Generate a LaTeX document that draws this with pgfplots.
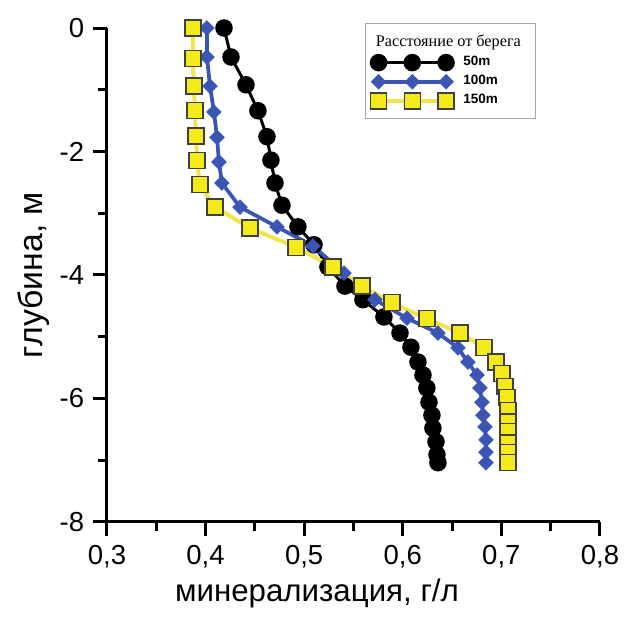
\documentclass[border=0pt]{standalone}
\usepackage{fontspec}
\setmainfont{Liberation Sans}
\newfontfamily\legtitle{Liberation Serif}
\usepackage{pgfplots}
\pgfplotsset{compat=1.18}
\definecolor{dotblue}{HTML}{3A55B4}
\definecolor{sqyellow}{HTML}{F4EA1A}
\definecolor{lineyellow}{HTML}{F1E54C}

\begin{document}
\begin{tikzpicture}
\begin{axis}[
  scale only axis, width=197.2pt, height=197.6pt,
  xmin=0.3, xmax=0.8, ymin=-8, ymax=0,
  axis lines*=left, axis line style={line width=1.2pt},
  xtick={0.3,0.4,0.5,0.6,0.7,0.8}, ytick={-8,-6,-4,-2,0},
  minor x tick num=1, minor y tick num=1,
  tick align=outside, major tick length=5.6pt, minor tick length=3.6pt,
  every tick/.style={black, line width=1.2pt},
  /pgf/number format/assume math mode=true,
  tick label style={font=\fontsize{11}{13}\selectfont},
  x tick label style={/pgf/number format/.cd, fixed, fixed zerofill, precision=1, use comma},
  xlabel={минерализация, г/л}, ylabel={глубина, м},
  xlabel style={font=\fontsize{12.5}{14}\selectfont, at={(axis description cs:0.426,-0.144)}, anchor=center},
  ylabel style={font=\fontsize{13.5}{15}\selectfont, at={(axis description cs:-0.148,0.5)}, anchor=center},
  clip=false,
  legend cell align=left,
  legend image code/.code={\draw[mark repeat=1,#1] plot coordinates {(0pt,0pt) (13.5pt,0pt) (27pt,0pt)};},
  legend style={at={(rel axis cs:0.5233,1.0101)}, anchor=north west, draw=gray!70, line width=0.5pt,
    font=\fontsize{5.4}{6}\selectfont\bfseries, row sep=1pt, inner xsep=2pt, inner ysep=3.7pt,
    nodes={inner sep=0.7pt}, /tikz/every odd column/.append style={column sep=3pt}},
]
\addlegendimage{empty legend}
\addlegendentry{\hspace{-35pt}{\legtitle\mdseries\fontsize{6.5}{8}\selectfont Расстояние от берега}\hspace{3pt}\rule[-3.8pt]{0pt}{7.4pt}}

\addplot[black, line width=1.2pt, mark=*, mark size=2.9pt, mark options={fill=black}] coordinates {
(0.4187,0) (0.4258,-0.47) (0.4410,-0.92) (0.4531,-1.34) (0.4623,-1.76) (0.4663,-2.14)
(0.4704,-2.51) (0.4775,-2.87) (0.4937,-3.22) (0.5100,-3.51) (0.5241,-3.87) (0.5414,-4.18)
(0.5596,-4.40) (0.5809,-4.68) (0.5972,-4.94) (0.6083,-5.17) (0.6154,-5.41) (0.6205,-5.62)
(0.6245,-5.83) (0.6266,-6.06) (0.6296,-6.27) (0.6306,-6.48) (0.6337,-6.70) (0.6347,-6.91)
(0.6357,-7.04)};
\addlegendentry{50m}

\addplot[dotblue, line width=1.5pt, mark=square*, mark size=2.05pt, mark options={fill=dotblue, rotate=45, line width=0.3pt}] coordinates {
(0.4014,0) (0.4014,-0.47) (0.4045,-0.94) (0.4085,-1.36) (0.4116,-1.77) (0.4136,-2.17)
(0.4166,-2.51) (0.4349,-2.90) (0.4724,-3.22) (0.5089,-3.53) (0.5404,-3.97) (0.5718,-4.40)
(0.6043,-4.70) (0.6357,-4.94) (0.6560,-5.18) (0.6661,-5.41) (0.6753,-5.62) (0.6783,-5.83)
(0.6803,-6.06) (0.6813,-6.27) (0.6834,-6.46) (0.6844,-6.67) (0.6844,-6.87) (0.6844,-7.04)};
\addlegendentry{100m}

\addplot[lineyellow, line width=1.6pt, mark=square*, mark size=3.2pt, mark options={fill=sqyellow, draw=black!75, line width=0.5pt}] coordinates {
(0.3872,0) (0.3872,-0.49) (0.3882,-0.94) (0.3892,-1.34) (0.3903,-1.75) (0.3913,-2.15)
(0.3943,-2.54) (0.4095,-2.90) (0.4450,-3.24) (0.4917,-3.55) (0.5292,-3.87) (0.5586,-4.18)
(0.5890,-4.45) (0.6245,-4.71) (0.6580,-4.94) (0.6824,-5.18) (0.6945,-5.41) (0.7006,-5.59)
(0.7037,-5.80) (0.7057,-5.99) (0.7067,-6.19) (0.7067,-6.38) (0.7067,-6.54) (0.7067,-6.72)
(0.7067,-6.88) (0.7067,-7.04)};
\addlegendentry{150m}

\coordinate (bbsw) at (rel axis cs:-0.217,-0.2126);
\coordinate (bbne) at (rel axis cs:1.0548,1.0567);
\end{axis}
\pgfresetboundingbox
\path[use as bounding box] (bbsw) rectangle (bbne);
\end{tikzpicture}
\end{document}
